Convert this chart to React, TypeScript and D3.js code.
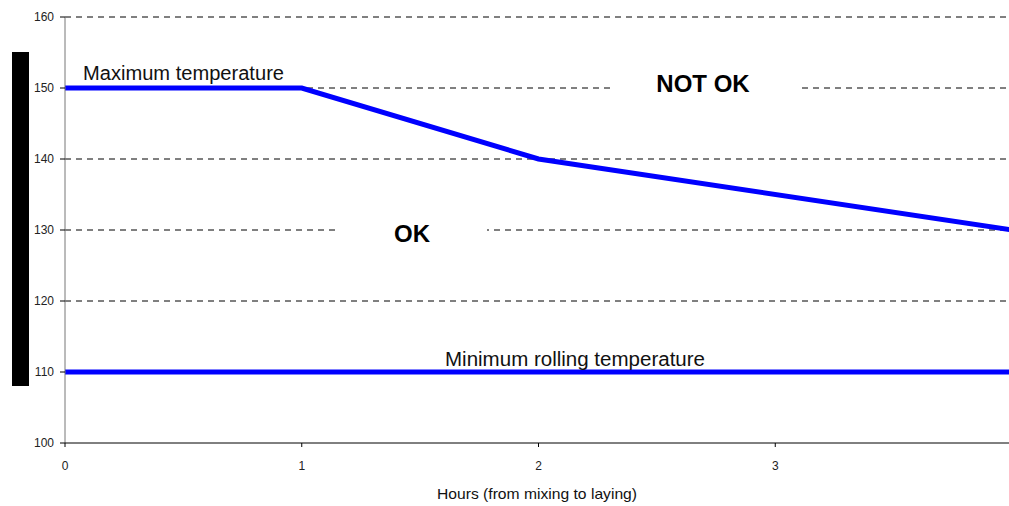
import React from "react";
import * as d3 from "d3";

const hours = [0, 1, 2, 4];
const maxTemp = [150, 150, 140, 130];
const minHours = [0, 4];
const minTemp = [110, 110];
const yTicks = [100, 110, 120, 130, 140, 150, 160];
const xTicks = [0, 1, 2, 3];

export default function App() {
  const W = 1009, H = 506;
  const x = d3.scaleLinear().domain([0, 4]).range([65, 1012]);
  const y = d3.scaleLinear().domain([100, 160]).range([443, 17]);
  const line = d3.line<[number, number]>().x(d => x(d[0])).y(d => y(d[1]));
  const maxPts = hours.map((h, i) => [h, maxTemp[i]] as [number, number]);
  const minPts = minHours.map((h, i) => [h, minTemp[i]] as [number, number]);
  const font = "Arial, 'Liberation Sans', sans-serif";
  return (
    <svg width={W} height={H} style={{ position: "absolute", left: 0, top: 0, background: "#fff" }} fontFamily={font}>
      <rect x={0} y={0} width={W} height={H} fill="#fff" />
      <defs>
        <clipPath id="plot"><rect x={65} y={0} width={W - 65} height={H} /></clipPath>
      </defs>
      {yTicks.filter(t => t !== 100).map(t => (
        <line key={t} x1={x(0)} x2={W} y1={y(t)} y2={y(t)} stroke="#000" strokeWidth={1} strokeDasharray="6,5" />
      ))}
      {/* label backgrounds */}
      <rect x={610} y={y(150) - 4} width={192} height={8} fill="#fff" />
      <rect x={336} y={y(130) - 4} width={151} height={8} fill="#fff" />
      <g clipPath="url(#plot)">
        <path d={line(minPts) || ""} fill="none" stroke="#0000ff" strokeWidth={5} />
        <path d={line(maxPts) || ""} fill="none" stroke="#0000ff" strokeWidth={5} strokeLinejoin="miter" />
      </g>
      <line x1={x(0)} x2={x(0)} y1={y(160)} y2={y(100)} stroke="#777" strokeWidth={1} />
      <line x1={x(0)} x2={W} y1={y(100)} y2={y(100)} stroke="#000" strokeWidth={1} />
      {yTicks.map(t => (
        <g key={t}>
          <line x1={x(0) - 5} x2={x(0)} y1={y(t)} y2={y(t)} stroke="#000" />
          <text x={54} y={y(t) + 4} textAnchor="end" fontSize={12} fill="#222">{t}</text>
        </g>
      ))}
      {xTicks.map(t => (
        <g key={t}>
          <line x1={x(t)} x2={x(t)} y1={y(100)} y2={y(100) + 4} stroke="#000" />
          <text x={x(t)} y={470} textAnchor="middle" fontSize={12} fill="#222">{t}</text>
        </g>
      ))}
      <text x={437} y={499} fontSize={15} fill="#111" textLength={200} lengthAdjust="spacingAndGlyphs">Hours (from mixing to laying)</text>
      <rect x={12} y={52} width={17} height={334} fill="#000" />
      <text x={83} y={80} fontSize={20} fill="#111" textLength={201} lengthAdjust="spacingAndGlyphs">Maximum temperature</text>
      <text x={445} y={366} fontSize={20} fill="#111" textLength={260} lengthAdjust="spacingAndGlyphs">Minimum rolling temperature</text>
      <text x={703} y={92} textAnchor="middle" fontSize={24} fontWeight="bold" fill="#000">NOT OK</text>
      <text x={412} y={242} textAnchor="middle" fontSize={24} fontWeight="bold" fill="#000">OK</text>
    </svg>
  );
}
